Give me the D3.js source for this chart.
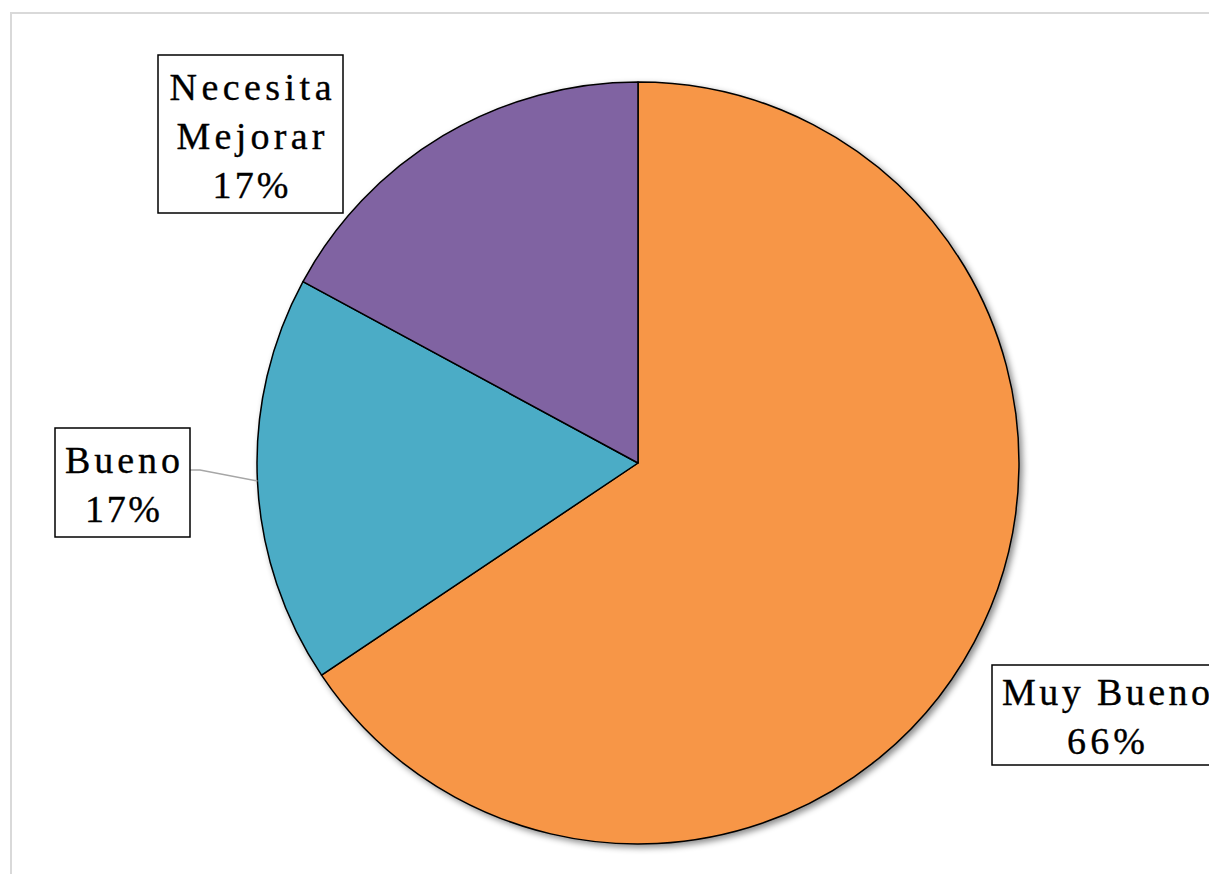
<!DOCTYPE html>
<html><head><meta charset="utf-8">
<script src="https://cdn.jsdelivr.net/npm/d3@7"></script>
<style>html,body{margin:0;padding:0;background:#fff;overflow:hidden}</style>
</head><body>
<svg id="chart" width="1209" height="874"></svg>
<script>
// Data
const categories = ["Muy Bueno", "Bueno", "Necesita Mejorar"];
const values = [65.6, 17.3, 17.1];
const colors = ["#F79646", "#4BACC6", "#8064A2"];
// label text lines (display)
const labelLines = [["Muy Bueno"], ["Bueno"], ["Necesita", "Mejorar"]];

const W = 1209, H = 874;
const cx = 638, cy = 463, R = 381;
const svg = d3.select("#chart");

// chart area border
svg.append("rect").attr("x", 11).attr("y", 13).attr("width", 1260).attr("height", 900)
  .attr("fill", "#fff").attr("stroke", "#d9d9d9").attr("stroke-width", 2);

const defs = svg.append("defs");
const f = defs.append("filter").attr("id", "sh").attr("x", "-10%").attr("y", "-10%").attr("width", "130%").attr("height", "130%");
f.append("feDropShadow").attr("dx", 3).attr("dy", 3).attr("stdDeviation", 3)
  .attr("flood-color", "#000").attr("flood-opacity", 0.45);

const pie = d3.pie().sort(null).value(d => d.v).startAngle(0).endAngle(2 * Math.PI);
const data = categories.map((c, i) => ({ c, v: values[i], col: colors[i], lines: labelLines[i] }));
const arcs = pie(data);
const arc = d3.arc().innerRadius(0).outerRadius(R);
const total = d3.sum(values);

const g = svg.append("g").attr("transform", `translate(${cx},${cy})`);
g.append("g").attr("filter", "url(#sh)")
  .selectAll("path").data(arcs).join("path")
  .attr("d", arc).attr("fill", d => d.data.col)
  .attr("stroke", "#000").attr("stroke-width", 1.5).attr("stroke-linejoin", "round");

// label layout (box geometry, absolute)
const layout = [
  { box: [992, 665, 228, 100], cxT: 1106, base: 705, widths: [208, 78] },
  { box: [55, 428, 135, 109], cxT: 122.5, base: 473, widths: [115, 75], leader: true },
  { box: [158, 55, 185, 158], cxT: 250.5, base: 100, widths: [162, 148, 76] }
];
const lineH = 49;
const font = "'Liberation Serif', 'Times New Roman', serif";

arcs.forEach((a, i) => {
  const L = layout[i];
  const lines = a.data.lines.concat([Math.round(a.data.v / total * 100) + "%"]);
  if (L.leader) {
    const mid = (a.startAngle + a.endAngle) / 2;
    const px = cx + Math.sin(mid) * R, py = cy - Math.cos(mid) * R;
    const bx = L.box[0] + L.box[2], by = L.box[1] + 42;
    svg.append("path")
      .attr("d", `M${bx},${by} L${bx + 10},${by} L${px},${py}`)
      .attr("fill", "none").attr("stroke", "#a6a6a6").attr("stroke-width", 1.5);
  }
  svg.append("rect").attr("x", L.box[0]).attr("y", L.box[1])
    .attr("width", L.box[2]).attr("height", L.box[3])
    .attr("fill", "#fff").attr("stroke", "#000").attr("stroke-width", 1.5);
  lines.forEach((t, j) => {
    svg.append("text").attr("x", L.cxT).attr("y", L.base + j * lineH)
      .attr("text-anchor", "middle").attr("font-family", font).attr("font-size", 38)
      .attr("fill", "#000").attr("stroke", "#000").attr("stroke-width", 0.35)
      .attr("textLength", L.widths[j]).attr("lengthAdjust", "spacing")
      .text(t);
  });
});
</script>
</body></html>
